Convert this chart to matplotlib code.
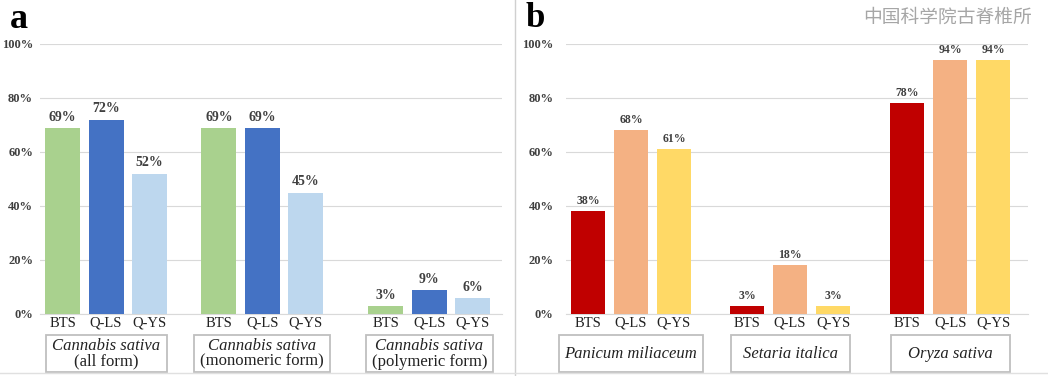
import matplotlib
matplotlib.use("Agg")
import matplotlib.pyplot as plt
from matplotlib.patches import Rectangle
from matplotlib.lines import Line2D
import numpy as np

plt.rcParams['font.family'] = ['Liberation Serif', 'DejaVu Serif']

methods = ["BTS", "Q-LS", "Q-YS"]

groups_a = [("Cannabis sativa", "(all form)"),
            ("Cannabis sativa", "(monomeric form)"),
            ("Cannabis sativa", "(polymeric form)")]
values_a = [[69, 72, 52],
            [69, 69, 45],
            [3, 9, 6]]
colors_a = ["#A9D18E", "#4472C4", "#BDD7EE"]

groups_b = [("Panicum miliaceum", None),
            ("Setaria italica", None),
            ("Oryza sativa", None)]
values_b = [[38, 68, 61],
            [3, 18, 3],
            [78, 94, 94]]
colors_b = ["#C00000", "#F4B183", "#FFD966"]

GRID = "#D9D9D9"
BOX = "#BFBFBF"


def draw_panel(ax, groups, values, colors, centers, box_widths, xlim, val_size):
    for g, (center, vals) in enumerate(zip(centers, values)):
        xs = center + np.arange(-1, 2)
        for x, v, c in zip(xs, vals, colors):
            ax.bar(x, v, width=0.8, color=c, zorder=3)
            ax.annotate(f"{v}%", (x, v), xytext=(0, 3), textcoords="offset points",
                        ha="center", va="bottom", fontsize=val_size,
                        fontweight="bold", color="#404040")
        # species box under each group
        w = box_widths[g]
        trans = ax.get_xaxis_transform()
        ax.add_patch(Rectangle((center - w / 2, -0.215), w, 0.137, transform=trans,
                               fill=False, edgecolor=BOX, lw=1.3, clip_on=False))
        name, form = groups[g]
        if form:
            ax.text(center, -0.120, name, transform=trans, ha="center", va="center",
                    fontsize=12, style="italic", color="#222222")
            ax.text(center, -0.176, form, transform=trans, ha="center", va="center",
                    fontsize=12, color="#222222")
        else:
            ax.text(center, -0.148, name, transform=trans, ha="center", va="center",
                    fontsize=12, style="italic", color="#222222")

    ticks = np.concatenate([c + np.arange(-1, 2) for c in centers])
    ax.set_xticks(ticks)
    ax.set_xticklabels(methods * len(centers), fontsize=10.5, color="#222222")
    ax.set_xlim(*xlim)
    ax.set_ylim(0, 100)
    ax.set_yticks(np.arange(0, 101, 20))
    ax.set_yticklabels([f"{t}%" for t in range(0, 101, 20)], fontsize=9,
                       fontweight="bold", color="#404040")
    ax.tick_params(axis="both", length=0)
    ax.tick_params(axis="x", pad=2)
    ax.grid(True, axis="y", color=GRID, lw=0.8, zorder=0)
    for s in ["top", "right", "left"]:
        ax.spines[s].set_visible(False)
    ax.spines["bottom"].set_color(GRID)
    ax.spines["bottom"].set_zorder(1)


fig = plt.figure(figsize=(10.48, 3.76), dpi=100)

ax_a = fig.add_axes([40 / 1048, 1 - 314 / 376, 462 / 1048, 270 / 376])
draw_panel(ax_a, groups_a, values_a, colors_a,
           centers=[0, 3.59, 7.43], box_widths=[2.78, 3.13, 2.92],
           xlim=(-1.52, 9.10), val_size=10)
ax_a.tick_params(axis="y", pad=5)

ax_b = fig.add_axes([566 / 1048, 1 - 314 / 376, 462 / 1048, 270 / 376])
draw_panel(ax_b, groups_b, values_b, colors_b,
           centers=[0, 3.70, 7.42], box_widths=[3.33, 2.77, 2.77],
           xlim=(-1.51, 9.23), val_size=8.5)
ax_b.tick_params(axis="y", pad=9)

# panel labels and watermark
fig.text(10 / 1048, 1 - 28 / 376, "a", fontsize=26, fontweight="bold", ha="left", va="baseline")
fig.text(526 / 1048, 1 - 27 / 376, "b", fontsize=25, fontweight="bold", ha="left", va="baseline")
fig.text(1032 / 1048, 1 - 17 / 376, "中国科学院古脊椎所", fontsize=13.5, color="#A6A6A6",
         ha="right", va="center", family=["Noto Sans CJK SC", "DejaVu Sans"])

# thin frame lines between/below panels
fig.add_artist(Line2D([515 / 1048, 515 / 1048], [0, 1], color="#D0D0D0", lw=1))
fig.add_artist(Line2D([0, 1], [1 - 373 / 376, 1 - 373 / 376], color="#E0E0E0", lw=1))

fig.savefig("out.png", dpi=100)
